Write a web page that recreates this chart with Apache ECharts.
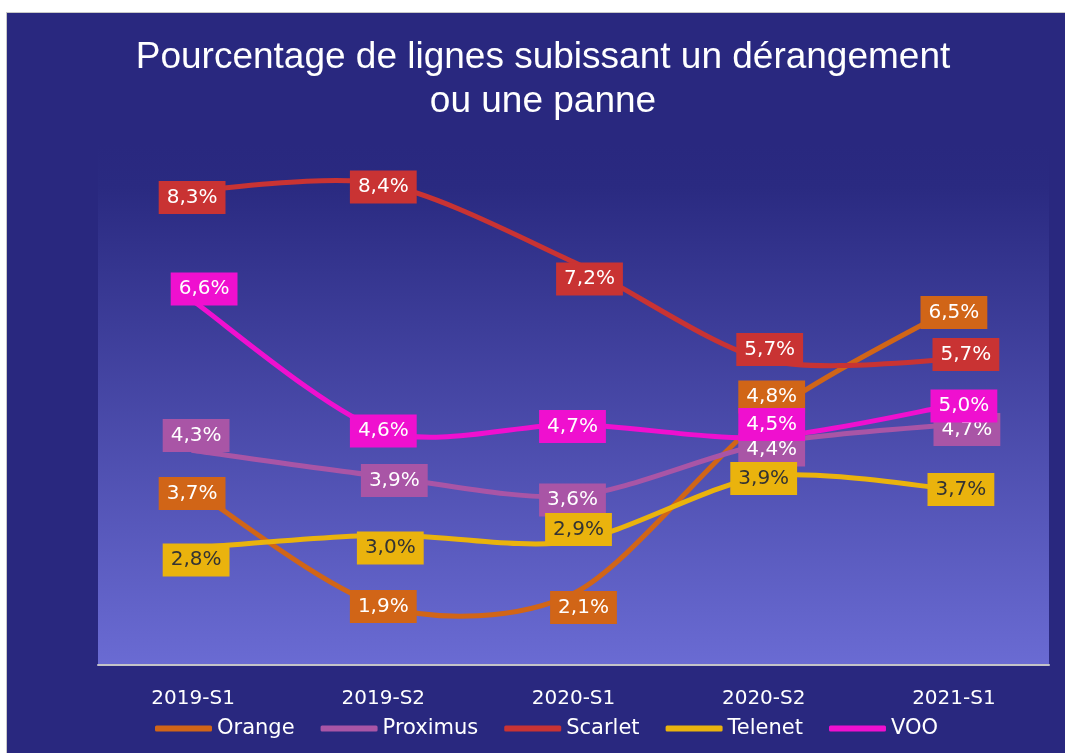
<!DOCTYPE html>
<html>
<head>
<meta charset="utf-8">
<script src="https://cdn.jsdelivr.net/npm/echarts@6/dist/echarts.min.js"></script>
<style>
  html, body { margin: 0; padding: 0; background: #fff; }
  #chart {
    position: absolute; left: 6px; top: 12px;
    width: 1058px; height: 740px;
    border-left: 1px solid #c8c8c8; border-top: 1px solid #c8c8c8;
  }
</style>
</head>
<body>
<div id="chart"></div>
<script>
const categories = ['2019-S1', '2019-S2', '2020-S1', '2020-S2', '2021-S1']
const orange   = [3.7, 1.9, 2.1, 4.8, 6.5]
const proximus = [4.3, 3.9, 3.6, 4.4, 4.7]
const scarlet  = [8.3, 8.4, 7.2, 5.7, 5.7]
const telenet  = [2.8, 3.0, 2.9, 3.9, 3.7]
const voo      = [6.6, 4.6, 4.7, 4.5, 5.0]

// label nudges (px) so boxes sit where the original puts them
const nudges = {
  Orange:   [[-1, 4], [0, 0], [10, 14], [8, -21], [0, 5]],
  Proximus: [[3, -15], [11, 4], [-1, 4], [8, 6], [13, 5]],
  Scarlet:  [[-1, 7], [0, 3], [16, 17], [6, -10], [12, -5]],
  Telenet:  [[3, 12], [7, 13], [5, -12], [0, 2], [7, 0]],
  VOO:      [[11, -12], [0, 0], [-1, 2], [8, -13], [10, 1]]
}

const colors = {
  Orange: '#d16517',
  Proximus: '#a955a6',
  Scarlet: '#c93333',
  Telenet: '#eab30d',
  VOO: '#ef10cf'
}

const fmt = v => v.toFixed(1).replace('.', ',') + '%'

// Excel-like smoothed line (catmull-rom through the points, no clamping)
function curveSeries(name, values) {
  const k = 1 / 7
  return {
    name,
    type: 'custom',
    color: colors[name],
    itemStyle: { color: colors[name] },
    data: values.map((v, i) => [i, v]),
    encode: { x: 0, y: 1 },
    renderItem(params, api) {
      if (params.dataIndex !== 0) return null
      const pts = values.map((v, i) => api.coord([i, v]))
      let d = 'M' + pts[0][0] + ' ' + pts[0][1]
      for (let i = 0; i < pts.length - 1; i++) {
        const p0 = pts[Math.max(i - 1, 0)]
        const p1 = pts[i]
        const p2 = pts[i + 1]
        const p3 = pts[Math.min(i + 2, pts.length - 1)]
        const c1x = p1[0] + (p2[0] - p0[0]) * k
        const c1y = p1[1] + (p2[1] - p0[1]) * k
        const c2x = p2[0] - (p3[0] - p1[0]) * k
        const c2y = p2[1] - (p3[1] - p1[1]) * k
        d += ' C' + c1x + ' ' + c1y + ' ' + c2x + ' ' + c2y + ' ' + p2[0] + ' ' + p2[1]
      }
      return {
        type: 'path',
        shape: { pathData: d },
        style: { stroke: colors[name], fill: 'none', lineWidth: 5, lineCap: 'round', lineJoin: 'round' }
      }
    }
  }
}

function labelSeries(name, values) {
  const dark = name === 'Telenet'
  return {
    name,
    type: 'line',
    symbol: 'circle',
    symbolSize: 2,
    color: colors[name],
    lineStyle: { width: 0, opacity: 0 },
    data: values.map((v, i) => ({
      value: v,
      label: { offset: nudges[name][i] }
    })),
    label: {
      show: true,
      position: 'inside',
      formatter: p => fmt(p.value),
      backgroundColor: colors[name],
      color: dark ? '#333333' : '#ffffff',
      fontFamily: 'DejaVu Sans',
      fontSize: 20,
      lineHeight: 23,
      padding: [5, 8]
    }
  }
}

const chart = echarts.init(document.getElementById('chart'))

chart.setOption({
  backgroundColor: '#29287f',
  animation: false,
  title: {
    text: 'Pourcentage de lignes subissant un dérangement\nou une panne',
    left: 536,
    top: 23,
    padding: 0,
    textAlign: 'center',
    textStyle: {
      color: '#ffffff',
      fontFamily: 'Liberation Sans',
      fontWeight: 'normal',
      fontSize: 37,
      lineHeight: 44
    }
  },
  legend: {
    data: ['Orange', 'Proximus', 'Scarlet', 'Telenet', 'VOO'],
    left: 148,
    top: 705,
    padding: 0,
    icon: 'roundRect',
    itemWidth: 57,
    itemHeight: 6,
    itemGap: 26,
    itemStyle: { opacity: 1 },
    textStyle: { color: '#ffffff', fontFamily: 'DejaVu Sans', fontSize: 21 }
  },
  grid: {
    left: 91, right: 16, top: 132, bottom: 88,
    show: true,
    borderWidth: 0,
    backgroundColor: new echarts.graphic.LinearGradient(0, 0, 0, 1, [
      { offset: 0, color: '#29287f' },
      { offset: 0.08, color: '#2a2a81' },
      { offset: 1, color: '#6a6bd3' }
    ])
  },
  xAxis: {
    type: 'category',
    data: categories,
    boundaryGap: true,
    axisLine: { lineStyle: { color: '#c4c4c8', width: 2 } },
    axisTick: { show: false },
    axisLabel: {
      color: '#ffffff',
      fontFamily: 'DejaVu Sans',
      fontSize: 20,
      margin: 24
    }
  },
  yAxis: {
    type: 'value',
    min: 1,
    max: 9,
    show: false,
    splitLine: { show: false }
  },
  series: [
    curveSeries('Orange', orange),
    curveSeries('Proximus', proximus),
    curveSeries('Scarlet', scarlet),
    curveSeries('Telenet', telenet),
    curveSeries('VOO', voo),
    labelSeries('Orange', orange),
    labelSeries('Proximus', proximus),
    labelSeries('Scarlet', scarlet),
    labelSeries('Telenet', telenet),
    labelSeries('VOO', voo)
  ]
})
</script>
</body>
</html>
